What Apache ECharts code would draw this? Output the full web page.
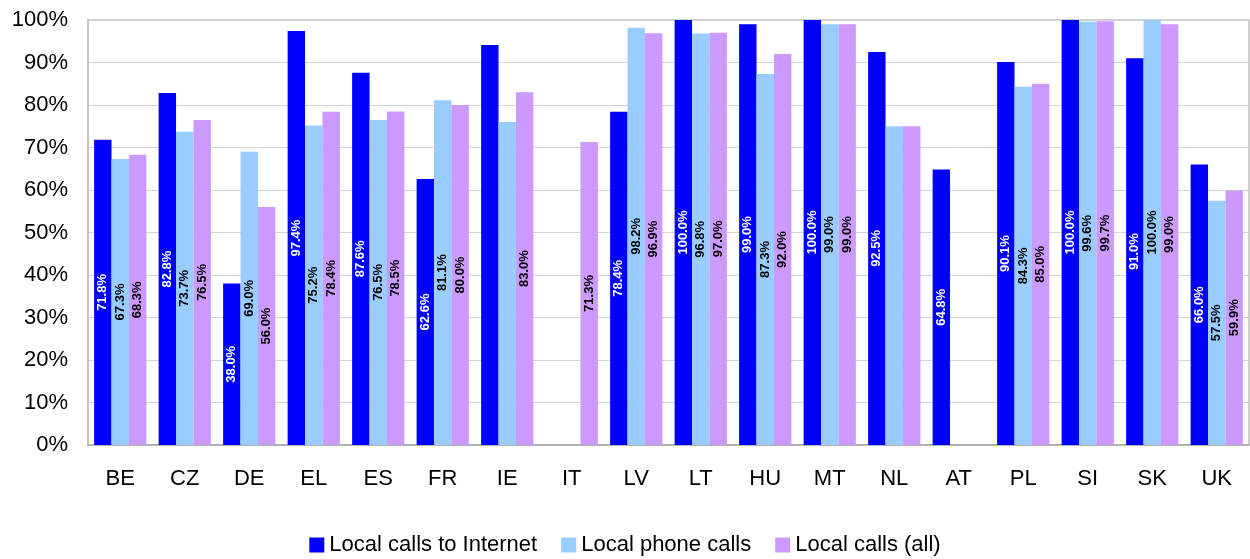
<!DOCTYPE html>
<html><head><meta charset="utf-8">
<script src="https://cdn.jsdelivr.net/npm/echarts@6/dist/echarts.min.js"></script>
<style>html,body{margin:0;padding:0;background:#fff}#c{width:1250px;height:559px}</style>
</head><body><div id="c"></div>
<script>
const categories = ['BE','CZ','DE','EL','ES','FR','IE','IT','LV','LT','HU','MT','NL','AT','PL','SI','SK','UK'];
const seriesNames = ['Local calls to Internet','Local phone calls','Local calls (all)'];
const internetCalls = [71.8,82.8,38.0,97.4,87.6,62.6,94.1,null,78.4,100.0,99.0,100.0,92.5,64.8,90.1,100.0,91.0,66.0];
const phoneCalls    = [67.3,73.7,69.0,75.2,76.5,81.1,76.0,null,98.2,96.8,87.3,99.0,75.0,null,84.3,99.6,100.0,57.5];
const allCalls      = [68.3,76.5,56.0,78.4,78.5,80.0,83.0,71.3,96.9,97.0,92.0,99.0,75.0,null,85.0,99.7,99.0,59.9];
// bars drawn without a value label in the reference: [seriesIndex, categoryIndex]
const unlabeled = [[0,6],[1,6],[1,12],[2,12]];
const colors = ['#0000ff','#99ccff','#cc99ff'];
const labelColors = ['#ffffff','#000000','#000000'];
const FONT = 'Liberation Sans, Arial, sans-serif';

const chart = echarts.init(document.getElementById('c'));
const allData = [internetCalls, phoneCalls, allCalls];
const series = allData.map((arr, si) => ({
  name: seriesNames[si],
  type: 'bar',
  barGap: '0%',
  barCategoryGap: '19%',
  itemStyle: {color: colors[si]},
  label: {
    show: true, position: 'inside', rotate: 90,
    formatter: p => p.value.toFixed(1) + '%',
    color: labelColors[si], fontWeight: 'bold', fontSize: 13,
    fontFamily: FONT
  },
  data: arr.map((v, ci) => {
    if (v === null) return null;
    const hide = unlabeled.some(u => u[0] === si && u[1] === ci);
    return hide ? {value: v, label: {show: false}} : v;
  })
}));

chart.setOption({
  animation: false,
  textStyle: {fontFamily: FONT},
  grid: {left: 88, right: 1, top: 20, bottom: 114, show: true, borderColor: '#c0c0c0', borderWidth: 1.5},
  legend: {
    top: 529, left: 'center', itemWidth: 15, itemHeight: 15, itemGap: 24,
    textStyle: {fontSize: 22, color: '#000', fontFamily: FONT},
    data: seriesNames, icon: 'rect'
  },
  xAxis: {
    type: 'category', data: categories,
    axisLine: {lineStyle: {color: '#a6a6a6', width: 1.5}},
    axisTick: {show: false},
    axisLabel: {fontSize: 22, color: '#000', margin: 23, fontFamily: FONT}
  },
  yAxis: {
    type: 'value', min: 0, max: 100, interval: 10,
    axisLine: {show: true, lineStyle: {color: '#c0c0c0', width: 1.5}},
    axisTick: {show: false},
    splitLine: {lineStyle: {color: '#d4d4d4', width: 1}},
    axisLabel: {fontSize: 22, color: '#000', margin: 20, formatter: '{value}%', fontFamily: FONT}
  },
  series: series
});
</script></body></html>
